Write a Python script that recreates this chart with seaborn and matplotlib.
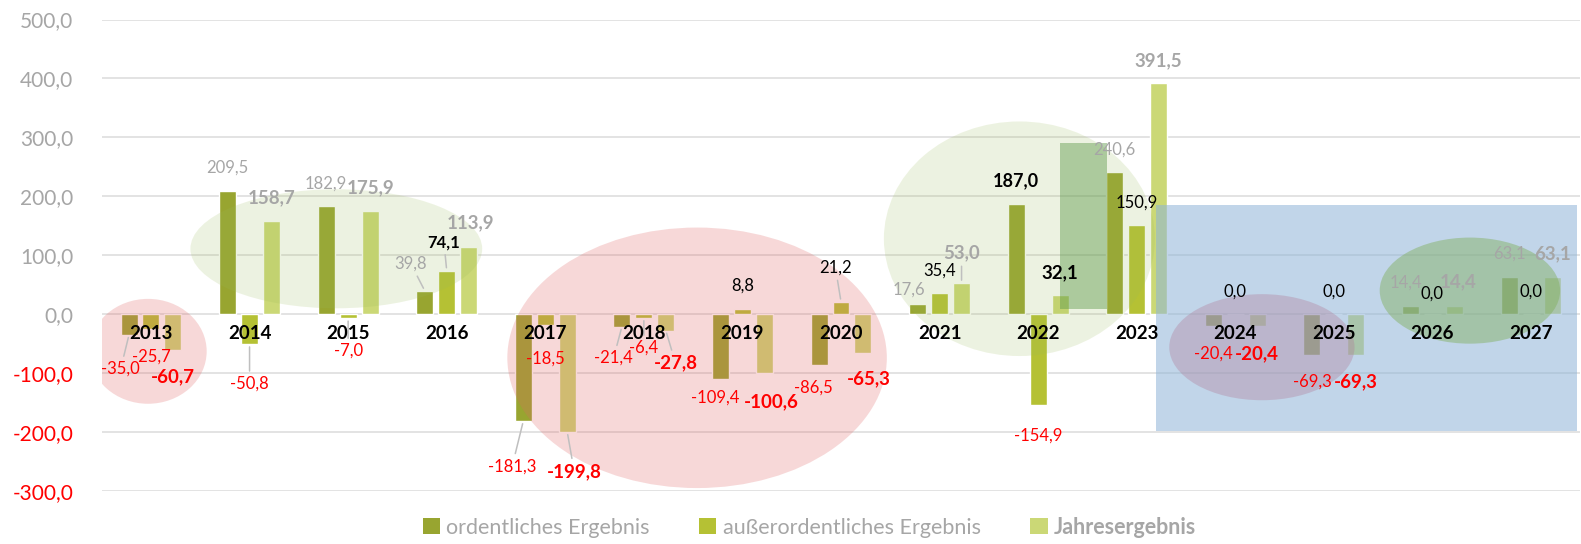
import numpy as np
import pandas as pd
import matplotlib
matplotlib.use("Agg")
import matplotlib.pyplot as plt
import seaborn as sns
from matplotlib.patches import Ellipse, Rectangle, Patch

# ---------------- data ----------------
years = [str(y) for y in range(2013, 2028)]
ordentlich = [-35.0, 209.5, 182.9, 39.8, -181.3, -21.4, -109.4, -86.5, 17.6, 187.0, 240.6, -20.4, -69.3, 14.4, 63.1]
ausserordentlich = [-25.7, -50.8, -7.0, 74.1, -18.5, -6.4, 8.8, 21.2, 35.4, -154.9, 150.9, 0.0, 0.0, 0.0, 0.0]
jahresergebnis = [-60.7, 158.7, 175.9, 113.9, -199.8, -27.8, -100.6, -65.3, 53.0, 32.1, 391.5, -20.4, -69.3, 14.4, 63.1]
series_names = ["ordentliches Ergebnis", "außerordentliches Ergebnis", "Jahresergebnis"]
y_ticks = [-300, -200, -100, 0, 100, 200, 300, 400, 500]

# ---------------- style ----------------
colors = ["#98A530", "#B5C134", "#CBD876"]
GREY = "#A6A6A6"
RED = "#FF0000"

sns.set_style("white")
plt.rcParams['font.family'] = ['Lato', 'DejaVu Sans']

df = pd.DataFrame({
    "Jahr": years * 3,
    "Serie": np.repeat(series_names, len(years)),
    "Wert": ordentlich + ausserordentlich + jahresergebnis,
})

W_PX, H_PX = 1581, 544
fig = plt.figure(figsize=(W_PX / 100, H_PX / 100), dpi=100)
left, right, top, bottom = 101.7, 1580.3, 19.5, 491.0
ax = fig.add_axes([left / W_PX, 1 - bottom / H_PX, (right - left) / W_PX, (bottom - top) / H_PX])

sns.barplot(data=df, x="Jahr", y="Wert", hue="Serie", order=years, hue_order=series_names,
            palette=colors, width=0.669, gap=0.227, saturation=1, errorbar=None,
            legend=False, ax=ax, zorder=2)

ax.set_xlim(-0.5, len(years) - 0.5)
ax.set_ylim(-300, 500)
ax.set_yticks(y_ticks)
ax.set_yticklabels([f"{v:.1f}".replace(".", ",") for v in y_ticks])
for lbl, v in zip(ax.get_yticklabels(), y_ticks):
    lbl.set_color(RED if v < 0 else GREY)
ax.tick_params(axis="y", length=0, pad=20.5, labelsize=15)
ax.yaxis.grid(True, color="#E3E3E3", lw=1.4)
ax.set_axisbelow(True)
for s in ax.spines.values():
    s.set_visible(False)
ax.spines["bottom"].set_position(("data", 0))
ax.tick_params(axis="x", length=0, pad=8, labelsize=13.5, labelcolor="black")
for lbl in ax.get_xticklabels():
    lbl.set_fontweight("bold")
ax.xaxis.set_zorder(7)
ax.set_xlabel("")
ax.set_ylabel("")

# ---------------- decorative highlight shapes (data coords) ----------------
PINK = ("#E06666", 0.25)
LGREEN = ("#9BBB59", 0.18)
SGREEN = ("#7FAE5A", 0.45)
MAUVE = ("#B07C98", 0.35)
ellipses = [
    ((-0.03, -63), 1.19, 178, PINK),
    ((1.88, 111), 2.96, 202, LGREEN),
    ((5.54, -74), 3.85, 442, PINK),
    ((8.81, 128), 2.75, 398, LGREEN),
]
for (c, w, h, (col, a)) in ellipses:
    ax.add_patch(Ellipse(c, w, h, facecolor=col, alpha=a, edgecolor="none", zorder=3))
ax.add_patch(Rectangle((9.22, 9), 0.48, 281, facecolor="#5E9A4A", alpha=0.45, edgecolor="none", zorder=3))
ax.add_patch(Rectangle((10.20, -198), 4.27, 384, facecolor="#8EB4D8", alpha=0.55, edgecolor="none", zorder=3))
for (c, w, h, (col, a)) in [((11.27, -56), 1.88, 180, MAUVE), ((13.38, 40), 1.83, 180, SGREEN)]:
    ax.add_patch(Ellipse(c, w, h, facecolor=col, alpha=a, edgecolor="none", zorder=3.5))

# ---------------- value labels ----------------
label_style = [
    dict(size=12, weight="normal", pos=GREY),
    dict(size=12, weight="normal", pos="black"),
    dict(size=13.5, weight="bold", pos=GREY),
]
overrides = {
    (0, "2022"): dict(color="black", weight="bold", size=13),
    (1, "2016"): dict(weight="bold"),
    (2, "2022"): dict(color="black"),
}
# (dx_pt, dy_pt, leader line)
nudges = {
    (0, "2013"): (-6, -5, True),
    (1, "2014"): (0, -9, True),
    (1, "2015"): (0, -4, True),
    (0, "2016"): (-10, 3, True),
    (1, "2016"): (-2, 4, True),
    (2, "2016"): (1, 1, False),
    (0, "2017"): (-8, -13, True),
    (1, "2017"): (0, -5, False),
    (2, "2017"): (5, -9, True),
    (0, "2018"): (-6, -3, True),
    (1, "2018"): (0, -2, True),
    (2, "2018"): (7, -4, True),
    (0, "2019"): (-4, 6, False),
    (2, "2019"): (5, -1, False),
    (0, "2020"): (-4, 3, False),
    (1, "2020"): (-4, 8, True),
    (2, "2020"): (4, 1, False),
    (0, "2021"): (-6, -6, False),
    (2, "2021"): (0, 5, True),
    (1, "2022"): (0, -2, False),
    (0, "2026"): (-3, 0, False),
    (1, "2026"): (0, -2, False),
    (2, "2026"): (3, 1, False),
}
series_vals = [ordentlich, ausserordentlich, jahresergebnis]
for si, cont in enumerate(ax.containers):
    st = label_style[si]
    for bar, yr, val in zip(cont.patches, years, series_vals[si]):
        x = bar.get_x() + bar.get_width() / 2
        yend = bar.get_y() + bar.get_height()
        base = 16.5 if val >= 0 else -19.5
        dx, dy, leader = nudges.get((si, yr), (0, 0, False))
        color = st["pos"] if val >= 0 else RED
        size, weight = st["size"], st["weight"]
        ov = overrides.get((si, yr), {})
        color = ov.get("color", color)
        size = ov.get("size", size)
        weight = ov.get("weight", weight)
        kw = {}
        if leader:
            kw["arrowprops"] = dict(arrowstyle="-", color="#BFBFBF", lw=1.1, shrinkA=1, shrinkB=2)
        ax.annotate(f"{val:.1f}".replace(".", ","), xy=(x, yend), xytext=(dx, base + dy),
                    textcoords="offset points", ha="center", va="center",
                    fontsize=size, fontweight=weight, color=color, zorder=6, **kw)

# ---------------- legend ----------------
handles = [Patch(facecolor=c, edgecolor="none") for c in colors]
leg = fig.legend(handles, series_names, loc="center", bbox_to_anchor=(0.512, 0.031), ncol=3,
                 frameon=False, fontsize=15.5, handlelength=0.8, handleheight=0.8,
                 handletextpad=0.3, columnspacing=2.3, labelcolor=GREY)
leg.get_texts()[2].set_fontweight("bold")

fig.savefig("out.png", dpi=100)
